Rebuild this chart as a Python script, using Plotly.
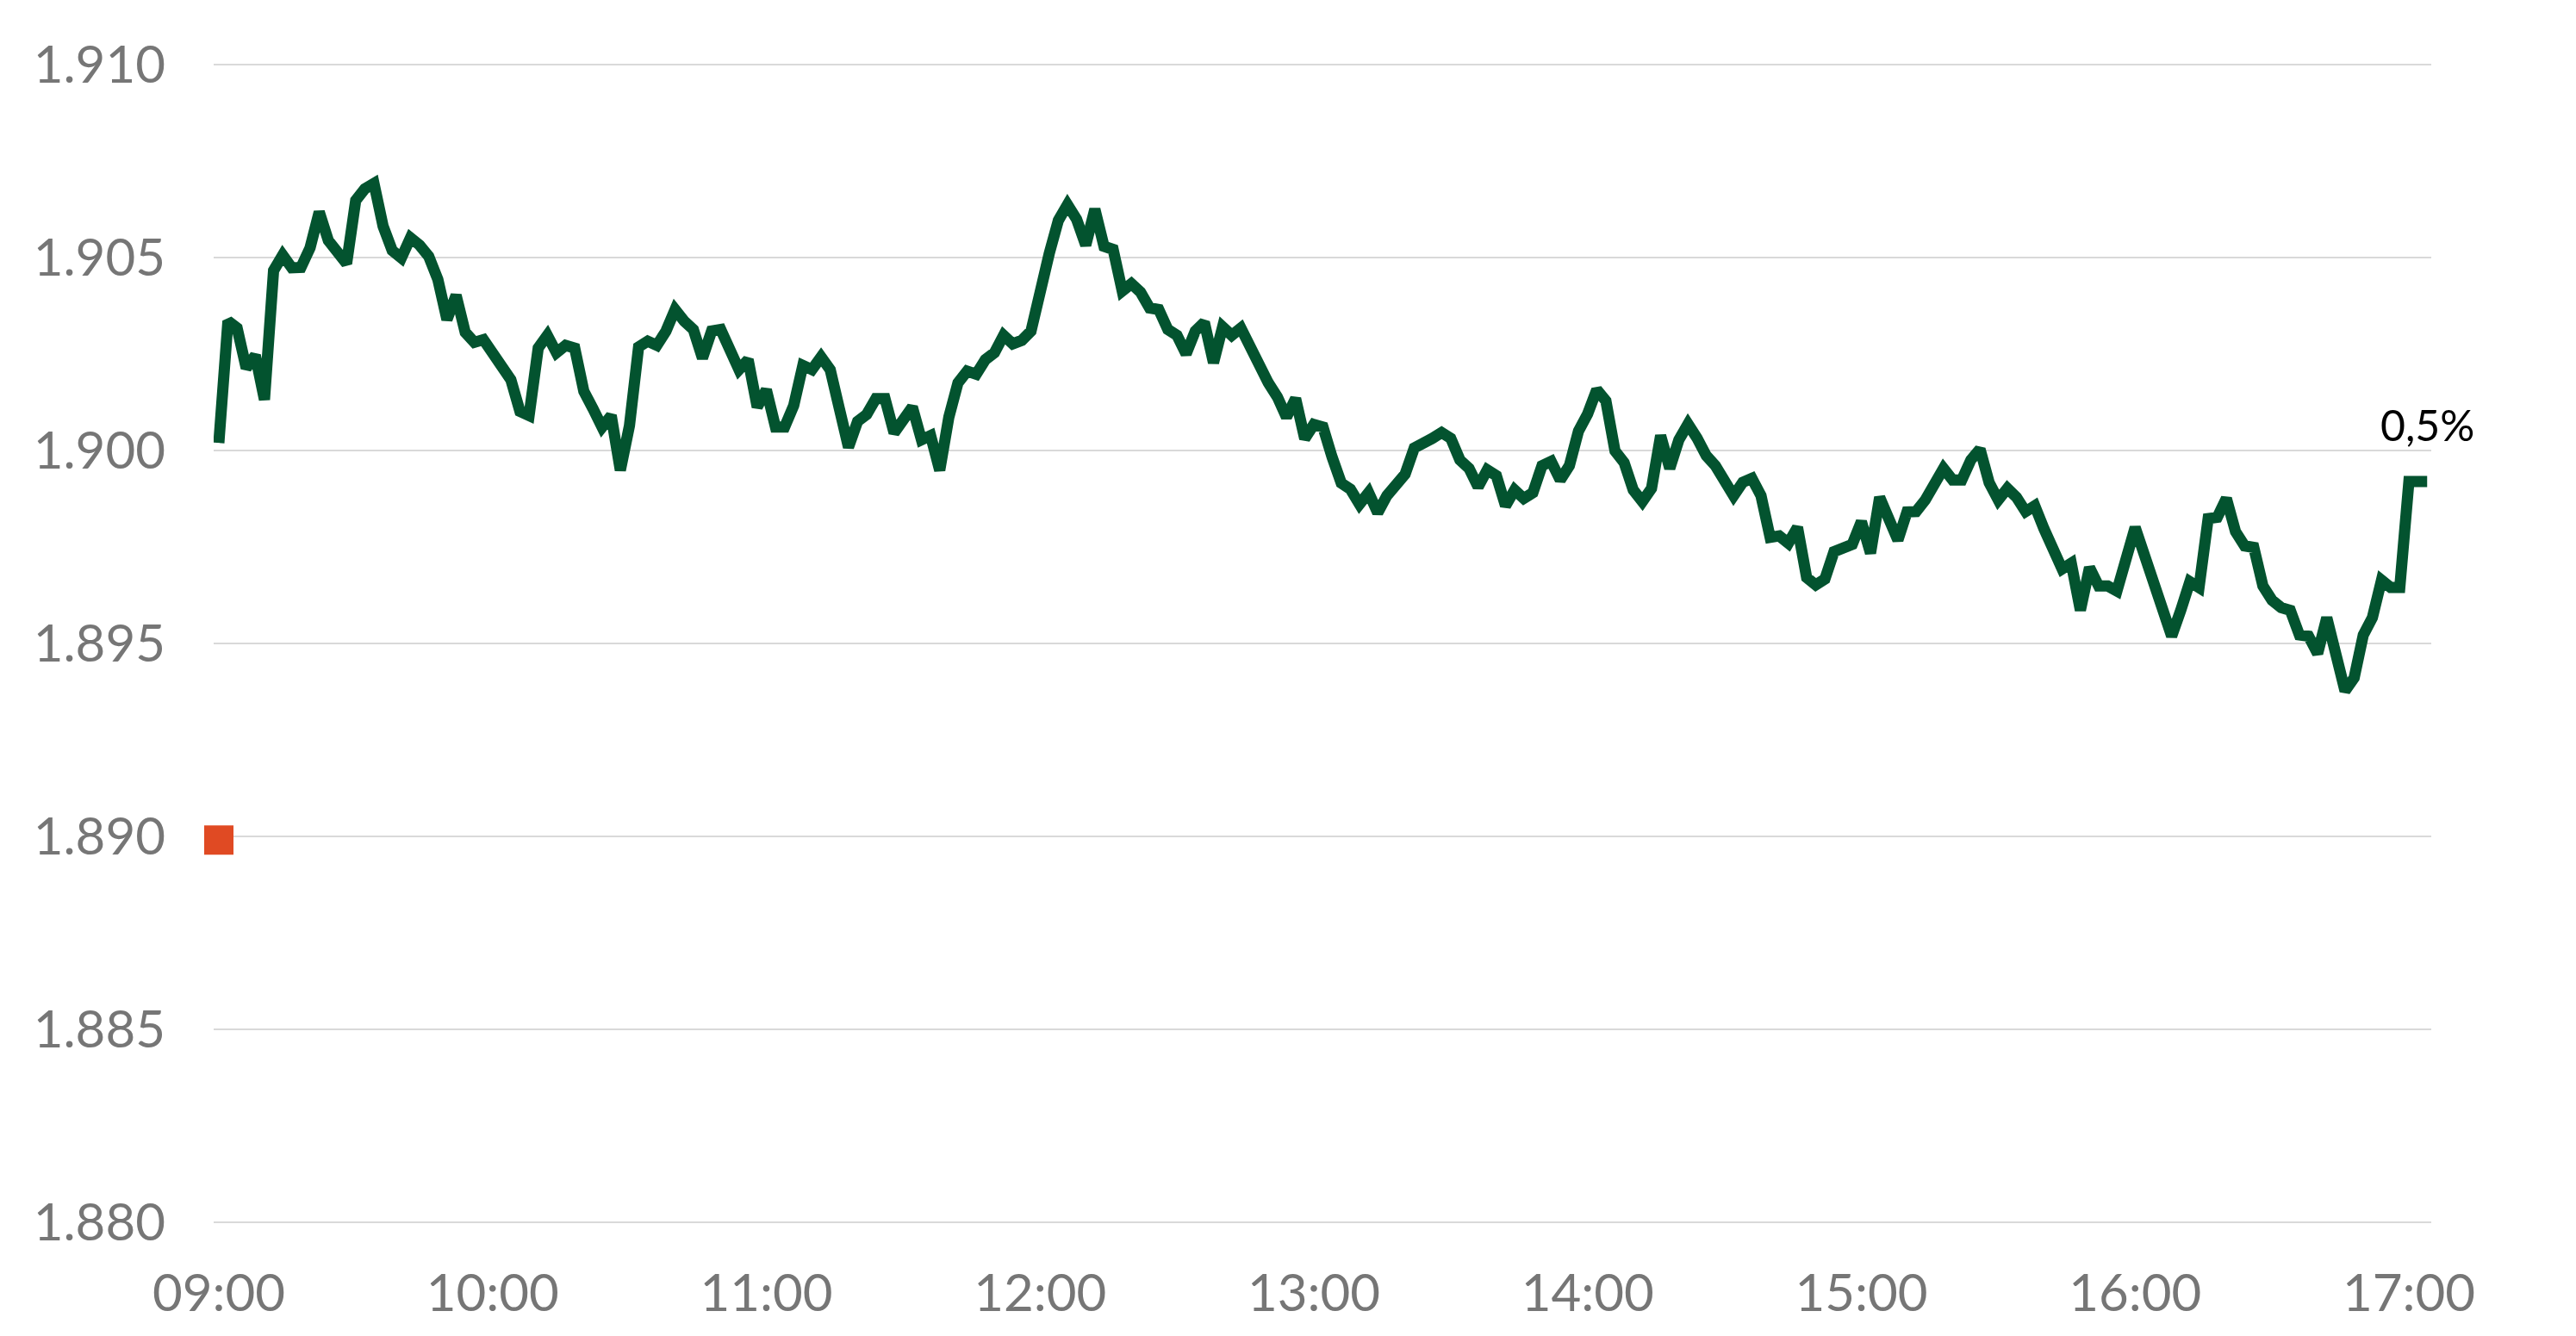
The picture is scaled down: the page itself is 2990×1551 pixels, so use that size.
import pandas as pd
import plotly.graph_objects as go

# intraday quote, 2-minute steps
times = [
    "09:00", "09:02", "09:04", "09:06", "09:08", "09:10", "09:12", "09:14", "09:16", "09:18",
    "09:20", "09:22", "09:24", "09:26", "09:28", "09:30", "09:32", "09:34", "09:36", "09:38",
    "09:40", "09:42", "09:44", "09:46", "09:48", "09:50", "09:52", "09:54", "09:56", "09:58",
    "10:00", "10:02", "10:04", "10:06", "10:08", "10:10", "10:12", "10:14", "10:16", "10:18",
    "10:20", "10:22", "10:24", "10:26", "10:28", "10:30", "10:32", "10:34", "10:36", "10:38",
    "10:40", "10:42", "10:44", "10:46", "10:48", "10:50", "10:52", "10:54", "10:56", "10:58",
    "11:00", "11:02", "11:04", "11:06", "11:08", "11:10", "11:12", "11:14", "11:16", "11:18",
    "11:20", "11:22", "11:24", "11:26", "11:28", "11:30", "11:32", "11:34", "11:36", "11:38",
    "11:40", "11:42", "11:44", "11:46", "11:48", "11:50", "11:52", "11:54", "11:56", "11:58",
    "12:00", "12:02", "12:04", "12:06", "12:08", "12:10", "12:12", "12:14", "12:16", "12:18",
    "12:20", "12:22", "12:24", "12:26", "12:28", "12:30", "12:32", "12:34", "12:36", "12:38",
    "12:40", "12:42", "12:44", "12:46", "12:48", "12:50", "12:52", "12:54", "12:56", "12:58",
    "13:00", "13:02", "13:04", "13:06", "13:08", "13:10", "13:12", "13:14", "13:16", "13:18",
    "13:20", "13:22", "13:24", "13:26", "13:28", "13:30", "13:32", "13:34", "13:36", "13:38",
    "13:40", "13:42", "13:44", "13:46", "13:48", "13:50", "13:52", "13:54", "13:56", "13:58",
    "14:00", "14:02", "14:04", "14:06", "14:08", "14:10", "14:12", "14:14", "14:16", "14:18",
    "14:20", "14:22", "14:24", "14:26", "14:28", "14:30", "14:32", "14:34", "14:36", "14:38",
    "14:40", "14:42", "14:44", "14:46", "14:48", "14:50", "14:52", "14:54", "14:56", "14:58",
    "15:00", "15:02", "15:04", "15:06", "15:08", "15:10", "15:12", "15:14", "15:16", "15:18",
    "15:20", "15:22", "15:24", "15:26", "15:28", "15:30", "15:32", "15:34", "15:36", "15:38",
    "15:40", "15:42", "15:44", "15:46", "15:48", "15:50", "15:52", "15:54", "15:56", "16:00",
    "16:08", "16:10", "16:12", "16:14", "16:16", "16:18", "16:20", "16:22", "16:24", "16:26",
    "16:28", "16:30", "16:32", "16:34", "16:36", "16:38", "16:40", "16:42", "16:44", "16:46",
    "16:48", "16:50", "16:52", "16:54", "16:56", "16:58", "17:00", "17:02", "17:04",
]

quote = [
    1.90020, 1.90336, 1.90318, 1.90214, 1.90247, 1.90132, 1.90467, 1.90507, 1.90474, 1.90475,
    1.90526, 1.90619, 1.90545, 1.90519, 1.90485, 1.90649, 1.90679, 1.90693, 1.90582, 1.90519,
    1.90500, 1.90552, 1.90533, 1.90504, 1.90444, 1.90340, 1.90403, 1.90307, 1.90281, 1.90288,
    1.90251, 1.90210, 1.90184, 1.90102, 1.90091, 1.90266, 1.90299, 1.90254, 1.90273, 1.90266,
    1.90154, 1.90109, 1.90061, 1.90091, 1.89949, 1.90065, 1.90269, 1.90284, 1.90273, 1.90310,
    1.90366, 1.90336, 1.90314, 1.90240, 1.90310, 1.90314, 1.90262, 1.90210, 1.90236, 1.90113,
    1.90158, 1.90061, 1.90061, 1.90117, 1.90221, 1.90210, 1.90243, 1.90210, 1.90109, 1.90009,
    1.90076, 1.90094, 1.90135, 1.90135, 1.90046, 1.90076, 1.90113, 1.90028, 1.90039, 1.89949,
    1.90087, 1.90176, 1.90206, 1.90198, 1.90236, 1.90254, 1.90299, 1.90277, 1.90286, 1.90310,
    1.90422, 1.90511, 1.90597, 1.90638, 1.90600, 1.90533, 1.90626, 1.90530, 1.90522, 1.90414,
    1.90433, 1.90411, 1.90370, 1.90366, 1.90314, 1.90299, 1.90251, 1.90310, 1.90333, 1.90228,
    1.90321, 1.90299, 1.90318, 1.90266, 1.90228, 1.90176, 1.90139, 1.90087, 1.90135, 1.90031,
    1.90068, 1.90061, 1.89983, 1.89916, 1.89900, 1.89861, 1.89891, 1.89839, 1.89883, 1.89909,
    1.89939, 1.90007, 1.90017, 1.90032, 1.90047, 1.90032, 1.89976, 1.89954, 1.89906, 1.89950,
    1.89935, 1.89857, 1.89898, 1.89876, 1.89891, 1.89961, 1.89972, 1.89924, 1.89961, 1.90051,
    1.90095, 1.90158, 1.90129, 1.89999, 1.89969, 1.89898, 1.89868, 1.89902, 1.90039, 1.89954,
    1.90028, 1.90069, 1.90032, 1.89987, 1.89961, 1.89915, 1.89883, 1.89918, 1.89928, 1.89883,
    1.89775, 1.89779, 1.89760, 1.89801, 1.89671, 1.89652, 1.89667, 1.89738, 1.89746, 1.89757,
    1.89816, 1.89734, 1.89879, 1.89820, 1.89768, 1.89841, 1.89842, 1.89872, 1.89913, 1.89954,
    1.89924, 1.89924, 1.89976, 1.90004, 1.89917, 1.89872, 1.89902, 1.89879, 1.89842, 1.89857,
    1.89798, 1.89742, 1.89693, 1.89708, 1.89586, 1.89697, 1.89649, 1.89649, 1.89636, 1.89801,
    1.89519, 1.89586, 1.89660, 1.89645, 1.89824, 1.89827, 1.89876, 1.89790, 1.89753, 1.89749,
    1.89649, 1.89612, 1.89593, 1.89586, 1.89522, 1.89519, 1.89474, 1.89567, 1.89478, 1.89377,
    1.89411, 1.89522, 1.89567, 1.89664, 1.89645, 1.89645, 1.89920, 1.89920, 1.89920,
]

# previous close marker
ref_time = "09:00"
ref_value = 1.8899

last_label = "0,5%"

day = "2024-01-02 "
x = pd.to_datetime([day + t for t in times])

GREEN = "#03532f"
RED = "#e04a23"
GREY = "#767676"
FONT = "Lato, 'Noto Sans', sans-serif"

fig = go.Figure()

fig.add_trace(go.Scatter(
    x=x, y=quote, mode="lines",
    line=dict(color=GREEN, width=13),
    hoverinfo="skip", showlegend=False,
))

fig.add_trace(go.Scatter(
    x=pd.to_datetime([day + ref_time]), y=[ref_value], mode="markers",
    marker=dict(symbol="square", color=RED, size=34, line=dict(width=0)),
    cliponaxis=False, hoverinfo="skip", showlegend=False,
))

fig.add_annotation(
    x=x[-1], y=quote[-1], text=last_label, showarrow=False,
    xanchor="center", yanchor="middle", yshift=66,
    font=dict(family=FONT, size=50, color="#000000"),
)

# page body adds ~8px offset, so margins are trimmed on the left/top
fig.update_layout(
    width=2990, height=1551,
    margin=dict(l=240, r=176, t=62.5, b=135.5),
    paper_bgcolor="white", plot_bgcolor="white",
    font=dict(family=FONT, color=GREY),
)

fig.update_xaxes(
    range=[day + "08:58:52", day + "17:04:54"],
    tickformat="%H:%M", dtick=3600000, tick0=day + "09:00",
    showgrid=False, showline=False, zeroline=False, ticks="",
    tickfont=dict(size=60, color=GREY), ticklabelstandoff=38,
)

fig.update_yaxes(
    range=[1.8799, 1.9101], dtick=0.005, tick0=1.88, tickformat=".3f",
    showgrid=True, gridcolor="#d9d9d9", gridwidth=2,
    showline=False, zeroline=False, ticks="",
    tickfont=dict(size=60, color=GREY), ticklabelstandoff=55,
)

fig.write_html("out.html")
